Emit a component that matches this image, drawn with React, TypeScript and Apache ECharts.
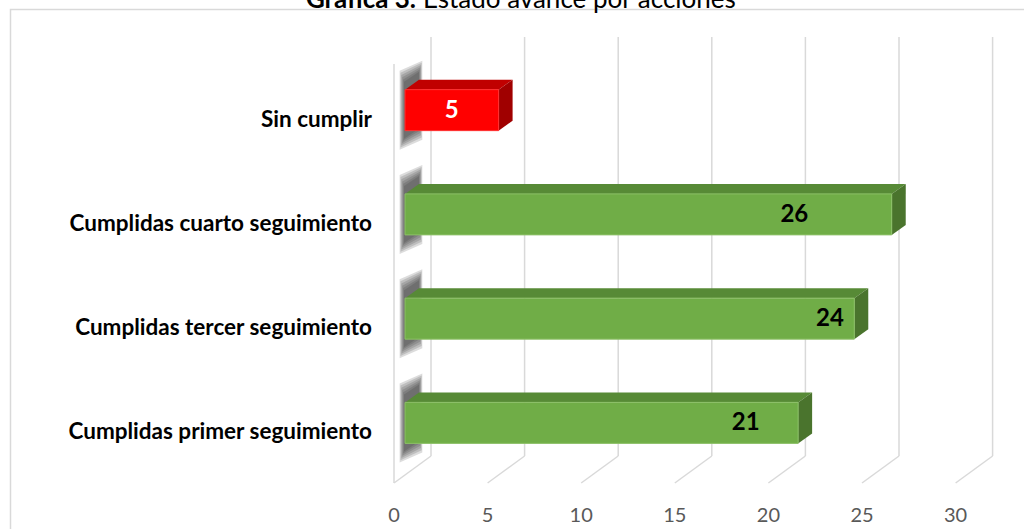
import React, { useEffect, useRef } from "react";
import * as echarts from "echarts";

const categories = [
  "Cumplidas primer seguimiento",
  "Cumplidas tercer seguimiento",
  "Cumplidas cuarto seguimiento",
  "Sin cumplir",
];
const values = [21, 24, 26, 5];
// where (in axis units) each value label sits along its bar
const labelAnchors = [18.2, 22.7, 20.8, 2.5];
const xTicks = [0, 5, 10, 15, 20, 25, 30];
const titleBold = "Gráfica 3.";
const titleRest = " Estado avance por acciones";

const FONT = "Lato, 'Open Sans', sans-serif";

export default function App() {
  const ref = useRef<HTMLDivElement>(null);
  useEffect(() => {
    if (!ref.current) return;
    const chart = echarts.init(ref.current, null, { renderer: "svg" });

    const BAR_DX = 11, BAR_DY = -8; // front plane -> bar face
    const BACK_DX = 37, BACK_DY = -27; // front plane -> back wall
    const DEPTH_DX = 14, DEPTH_DY = -10; // bar depth
    const BAR_H = 41;

    const option: any = {
      animation: false,
      backgroundColor: "#ffffff",
      grid: { left: 394, right: 68.4, top: 66, bottom: 46, containLabel: false },
      xAxis: {
        type: "value",
        min: 0,
        max: 30,
        interval: 5,
        axisLine: { show: false },
        axisTick: { show: false },
        splitLine: { show: false },
        axisLabel: { color: "#595959", fontFamily: FONT, fontSize: 20, margin: 21 },
      },
      yAxis: {
        type: "category",
        data: categories,
        axisLine: { show: false },
        axisTick: { show: false },
        splitLine: { show: false },
        axisLabel: { color: "#000000", fontFamily: FONT, fontSize: 22.5, fontWeight: "bold", margin: 22 },
      },
      graphic: [
        {
          type: "rect",
          z: -10,
          shape: { x: 10.5, y: 9.5, width: 1100, height: 600 },
          style: { fill: "none", stroke: "#d9d9d9", lineWidth: 1.5 },
        },
        {
          type: "text",
          x: 521,
          y: 11,
          style: {
            text: "{b|" + titleBold + "}{r|" + titleRest + "}",
            align: "center",
            verticalAlign: "bottom",
            rich: {
              b: { fontFamily: FONT, fontSize: 26, fontWeight: "bold", fill: "#000" },
              r: { fontFamily: FONT, fontSize: 26, fill: "#000" },
            },
          },
        },
      ],
      series: [
        {
          type: "custom",
          clip: false,
          z: 1,
          data: xTicks.map((t) => [t, 0]),
          encode: { x: 0, y: 1 },
          renderItem: (params: any, api: any) => {
            const v = api.value(0);
            const cs = params.coordSys;
            const fx = api.coord([v, 0])[0];
            const bx = fx + BACK_DX;
            const top = cs.y + BACK_DY - 2;
            const bottom = cs.y + cs.height + BACK_DY;
            const front = cs.y + cs.height;
            const st = { stroke: "#d9d9d9", lineWidth: 1.5, fill: "none" };
            const children: any[] = [
              { type: "line", shape: { x1: bx, y1: top, x2: bx, y2: bottom }, style: st },
              { type: "line", shape: { x1: bx, y1: bottom, x2: fx, y2: front }, style: st },
            ];
            if (v === 0) {
              children.push({
                type: "line",
                shape: { x1: fx, y1: top - BACK_DY, x2: fx, y2: front },
                style: st,
              });
            }
            return { type: "group", children };
          },
        },
        {
          type: "custom",
          clip: false,
          z: 2,
          data: values.map((v, i) => [v, i, labelAnchors[i]]),
          encode: { x: 0, y: 1 },
          renderItem: (params: any, api: any) => {
            const v = api.value(0);
            const idx = api.value(1);
            const la = api.value(2);
            const p0 = api.coord([0, idx]);
            const p1 = api.coord([v, idx]);
            const pl = api.coord([la, idx]);
            const x0 = p0[0] + BAR_DX;
            const x1 = p1[0] + BAR_DX;
            const cy = p0[1] + BAR_DY;
            const yt = cy - BAR_H / 2;
            const yb = cy + BAR_H / 2;
            const red = idx === 3;
            const front = red ? "#ff0000" : "#70ad47";
            const topC = red ? "#c00000" : "#578a36";
            const side = red ? "#a00000" : "#4a742d";
            // soft shadow on the left wall: stacked translucent layers
            const shadow: any[] = [];
            const layers = 6;
            for (let k = 0; k < layers; k++) {
              const g = (layers - 1 - k) * 2.2; // grow
              shadow.push({
                type: "polygon",
                shape: {
                  points: [
                    [x0 - 1 - g * 0.4, yt - 8 - g],
                    [x0 + DEPTH_DX + g * 0.3, yt - 18 - g],
                    [x0 + DEPTH_DX + g * 0.3, yb - 2 + g],
                    [x0 - 1 - g * 0.4, yb + 8 + g],
                  ],
                },
                style: { fill: "rgba(40,40,40,0.16)" },
              });
            }
            return {
              type: "group",
              children: [
                ...shadow,
                {
                  type: "polygon",
                  shape: {
                    points: [
                      [x0, yt],
                      [x1, yt],
                      [x1 + DEPTH_DX, yt + DEPTH_DY],
                      [x0 + DEPTH_DX, yt + DEPTH_DY],
                    ],
                  },
                  style: { fill: topC },
                },
                {
                  type: "polygon",
                  shape: {
                    points: [
                      [x1, yt],
                      [x1 + DEPTH_DX, yt + DEPTH_DY],
                      [x1 + DEPTH_DX, yb + DEPTH_DY],
                      [x1, yb],
                    ],
                  },
                  style: { fill: side },
                },
                {
                  type: "rect",
                  shape: { x: x0, y: yt, width: x1 - x0, height: BAR_H },
                  style: { fill: front, stroke: red ? "#ff3030" : "#8cc067", lineWidth: 1 },
                },
                {
                  type: "text",
                  x: pl[0] + BAR_DX,
                  y: cy - 2,
                  style: {
                    text: String(v),
                    align: "center",
                    verticalAlign: "middle",
                    fontFamily: FONT,
                    fontSize: 24,
                    fontWeight: "bold",
                    fill: red ? "#ffffff" : "#000000",
                  },
                },
              ],
            };
          },
        },
      ],
    };
    chart.setOption(option);
    return () => chart.dispose();
  }, []);
  return (
    <div
      ref={ref}
      style={{ position: "fixed", left: 0, top: 0, width: 1024, height: 529, background: "#fff" }}
    />
  );
}
